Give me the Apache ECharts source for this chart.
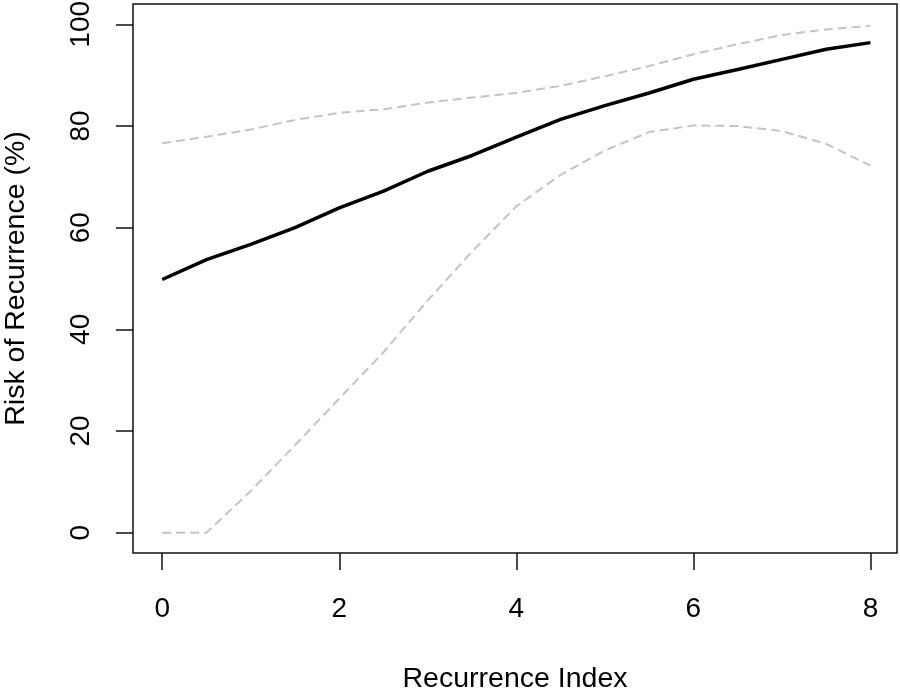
<!DOCTYPE html>
<html>
<head>
<meta charset="utf-8">
<script src="https://cdn.jsdelivr.net/npm/echarts@6/dist/echarts.min.js"></script>
<style>
  html, body { margin: 0; padding: 0; background: #fff; }
  #chart-container { width: 900px; height: 692px; }
</style>
</head>
<body>
<div id="chart-container"></div>
<script>
// values
var recIndex = [0, 0.5, 1, 1.5, 2, 2.5, 3, 3.5, 4, 4.5, 5, 5.5, 6, 6.5, 7, 7.5, 8];
var riskFit = [49.8, 53.7, 56.7, 60.0, 63.9, 67.2, 71.1, 74.2, 77.8, 81.3, 84.0, 86.5, 89.2, 91.1, 93.1, 95.1, 96.4];
var riskUpper = [76.6, 77.9, 79.3, 81.2, 82.6, 83.3, 84.6, 85.6, 86.5, 87.9, 89.8, 91.8, 94.1, 96.1, 97.9, 99.0, 99.7];
var riskLower = [0, 0, 8.2, 17.2, 26.4, 35.5, 45.7, 55.3, 64.2, 70.4, 75.2, 78.8, 80.1, 80.0, 79.0, 76.5, 72.2];
var xTicks = [0, 2, 4, 6, 8];
var yTicks = [0, 20, 40, 60, 80, 100];

var dom = document.getElementById('chart-container');
var myChart = echarts.init(dom, null, { renderer: 'canvas' });

function pairs(ys) {
  return recIndex.map(function (x, i) { return [x, ys[i]]; });
}

var font = 'Liberation Sans, Arial, Helvetica, sans-serif';
var fs = 28;

var option = {
  animation: false,
  backgroundColor: '#fff',
  grid: {
    left: 133, right: 3, top: 4, bottom: 139,
    show: true, borderColor: '#111', borderWidth: 1.5,
    containLabel: false, outerBoundsMode: 'none'
  },
  xAxis: {
    type: 'value',
    min: -0.33, max: 8.30,
    name: 'Recurrence Index',
    nameLocation: 'middle',
    nameGap: 112,
    nameTextStyle: { fontFamily: font, fontSize: 28.5, color: '#000' },
    axisLine: { show: false, onZero: false },
    splitLine: { show: false },
    axisTick: { show: true, length: 17, customValues: xTicks, lineStyle: { color: '#111', width: 1.5 } },
    axisLabel: { customValues: xTicks, margin: 42, fontFamily: font, fontSize: fs, color: '#000' }
  },
  yAxis: {
    type: 'value',
    min: -4, max: 104,
    name: 'Risk of Recurrence (%)',
    nameLocation: 'middle',
    nameGap: 102,
    nameTextStyle: { fontFamily: font, fontSize: 28.5, color: '#000' },
    axisLine: { show: false, onZero: false },
    splitLine: { show: false },
    axisTick: { show: true, length: 17, customValues: yTicks, lineStyle: { color: '#111', width: 1.5 } },
    axisLabel: { customValues: yTicks, rotate: 90, margin: 38, fontFamily: font, fontSize: fs, color: '#000' }
  },
  series: [
    {
      type: 'line', data: pairs(riskUpper), symbol: 'none',
      lineStyle: { color: '#c4c4c4', width: 2, type: [9, 5] }
    },
    {
      type: 'line', data: pairs(riskLower), symbol: 'none',
      lineStyle: { color: '#c4c4c4', width: 2, type: [9, 5] }
    },
    {
      type: 'line', data: pairs(riskFit), symbol: 'none',
      lineStyle: { color: '#000', width: 3.5 }
    }
  ]
};

myChart.setOption(option);
window.addEventListener('resize', myChart.resize);
</script>
</body>
</html>
